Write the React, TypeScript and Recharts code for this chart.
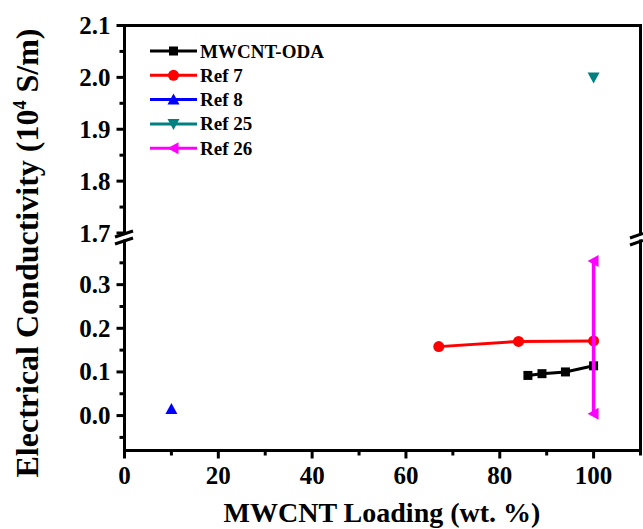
import React from 'react';
import { ScatterChart, Scatter, XAxis, YAxis, Legend } from 'recharts';

const FONT = '"Liberation Serif", "Times New Roman", serif';
const W = 643;
const H = 529;

// MWCNT loading (wt. %) vs electrical conductivity (10^4 S/m)
const odaLoading = [86, 89, 94, 100];
const odaSigma = [0.092, 0.096, 0.1, 0.114];
const ref7Loading = [67, 84, 100];
const ref7Sigma = [0.158, 0.17, 0.171];
const ref8Loading = [10];
const ref8Sigma = [0.015];
const ref25Loading = [100];
const ref25Sigma = [2.0];
const ref26Loading = [100, 100];
const ref26Sigma = [0.004, 0.354];

const loadingTicks = [0, 10, 20, 30, 40, 50, 60, 70, 80, 90, 100, 110];
const upperTicks = [1.7, 1.75, 1.8, 1.85, 1.9, 1.95, 2.0, 2.05, 2.1];
const lowerTicks = [-0.05, 0, 0.05, 0.1, 0.15, 0.2, 0.25, 0.3, 0.35];

const zip = (xs: number[], ys: number[]) => xs.map((x, i) => ({ x, y: ys[i] }));

type Kind = 'square' | 'circle' | 'up' | 'down' | 'left';

const series: { name: string; color: string; kind: Kind; width: number; data: { x: number; y: number }[]; part: 'low' | 'high' }[] = [
  { name: 'MWCNT-ODA', color: '#000000', kind: 'square', width: 3, data: zip(odaLoading, odaSigma), part: 'low' },
  { name: 'Ref 7', color: '#FF0000', kind: 'circle', width: 3, data: zip(ref7Loading, ref7Sigma), part: 'low' },
  { name: 'Ref 8', color: '#0000FF', kind: 'up', width: 3, data: zip(ref8Loading, ref8Sigma), part: 'low' },
  { name: 'Ref 25', color: '#008080', kind: 'down', width: 3, data: zip(ref25Loading, ref25Sigma), part: 'high' },
  { name: 'Ref 26', color: '#FF00FF', kind: 'left', width: 3.5, data: zip(ref26Loading, ref26Sigma), part: 'low' },
];

// plot box in page pixels (shared by both segments)
const LEFT = 124.5;
const RIGHT = 640.5;
const TOP = 25.5;
const UPPER_BOTTOM = 233;
const LOWER_TOP = 241;
const BOTTOM = 450.5;

const Marker = ({ kind, cx, cy, color }: { kind: Kind; cx: number; cy: number; color: string }) => {
  switch (kind) {
    case 'square':
      return <rect x={cx - 4.5} y={cy - 4.5} width={9} height={9} fill={color} />;
    case 'circle':
      return <circle cx={cx} cy={cy} r={5.5} fill={color} />;
    case 'up':
      return <polygon points={`${cx},${cy - 6} ${cx - 6},${cy + 5} ${cx + 6},${cy + 5}`} fill={color} />;
    case 'down':
      return <polygon points={`${cx},${cy + 6} ${cx - 6},${cy - 5} ${cx + 6},${cy - 5}`} fill={color} />;
    default:
      return <polygon points={`${cx - 6},${cy} ${cx + 5},${cy - 6} ${cx + 5},${cy + 6}`} fill={color} />;
  }
};

const isMajor = (v: number, step: number) => Math.abs(v / step - Math.round(v / step)) < 1e-6;

const YTick = (props: any) => {
  const { x, y, payload } = props;
  const v = payload.value as number;
  const major = isMajor(v, 0.1);
  return (
    <g>
      <line x1={x} x2={x - (major ? 8 : 5)} y1={y} y2={y} stroke="#000" strokeWidth={3} />
      {major && (
        <text x={x - 14} y={y + 8.5} textAnchor="end" fontFamily={FONT} fontWeight="bold" fontSize={25} fill="#000">
          {v.toFixed(1)}
        </text>
      )}
    </g>
  );
};

const XTick = (props: any) => {
  const { x, y, payload } = props;
  const v = payload.value as number;
  const major = isMajor(v, 20);
  return (
    <g>
      <line x1={x} x2={x} y1={y} y2={y + (major ? 8 : 5)} stroke="#000" strokeWidth={3} />
      {major && (
        <text x={x} y={y + 33} textAnchor="middle" fontFamily={FONT} fontWeight="bold" fontSize={25} fill="#000">
          {v}
        </text>
      )}
    </g>
  );
};

const LegendBox = () => (
  <svg width={200} height={125}>
    {series.map((s, i) => {
      const cy = 13 + i * 24.3;
      return (
        <g key={s.name}>
          <line x1={2} x2={49} y1={cy} y2={cy} stroke={s.color} strokeWidth={3} />
          <Marker kind={s.kind} cx={25.5} cy={cy} color={s.color} />
          <text x={52} y={cy + 6.5} fontFamily={FONT} fontWeight="bold" fontSize={19} fill="#000">
            {s.name}
          </text>
        </g>
      );
    })}
  </svg>
);

const renderScatter = (s: (typeof series)[number]) => (
  <Scatter
    key={s.name}
    name={s.name}
    data={s.data}
    fill={s.color}
    line={{ stroke: s.color, strokeWidth: s.width }}
    shape={(p: any) => <Marker kind={s.kind} cx={p.cx} cy={p.cy} color={s.color} />}
    isAnimationActive={false}
  />
);

// frame of the two panels, drawn as open paths
const upperFrame = `M${LEFT},${UPPER_BOTTOM} L${LEFT},${TOP} L${RIGHT},${TOP} L${RIGHT},${UPPER_BOTTOM}`;
const lowerFrame = `M${LEFT},${LOWER_TOP} L${LEFT},${BOTTOM} L${RIGHT},${BOTTOM} L${RIGHT},${LOWER_TOP}`;

export default function App() {
  return (
    <div style={{ position: 'relative', width: W, height: H, background: '#fff', overflow: 'hidden' }}>
      <style>{'body { margin: 0; }'}</style>
      {/* upper segment: 1.7 - 2.1 */}
      <div style={{ position: 'absolute', left: 0, top: 0 }}>
        <ScatterChart width={W} height={H} margin={{ top: TOP, right: W - RIGHT, bottom: H - UPPER_BOTTOM, left: 0 }}>
          <XAxis type="number" dataKey="x" domain={[0, 110]} hide allowDataOverflow />
          <YAxis
            type="number"
            dataKey="y"
            domain={[1.7, 2.1]}
            ticks={upperTicks}
            interval={0}
            width={LEFT}
            tickSize={0}
            tickMargin={0}
            tickLine={false}
            tick={<YTick />}
            axisLine={false}
            allowDataOverflow
          />
          <Legend
            layout="vertical"
            align="center"
            verticalAlign="middle"
            width={200}
            height={125}
            wrapperStyle={{ left: 148, top: 38 }}
            content={() => <LegendBox />}
          />
          {series.filter((s) => s.part === 'high').map(renderScatter)}
        </ScatterChart>
      </div>
      {/* lower segment: -0.08 - 0.4 */}
      <div style={{ position: 'absolute', left: 0, top: 0 }}>
        <ScatterChart width={W} height={H} margin={{ top: LOWER_TOP, right: W - RIGHT, bottom: 0, left: 0 }}>
          <XAxis
            type="number"
            dataKey="x"
            domain={[0, 110]}
            ticks={loadingTicks}
            interval={0}
            height={H - BOTTOM}
            tickSize={0}
            tickMargin={0}
            tickLine={false}
            tick={<XTick />}
            axisLine={false}
            allowDataOverflow
          />
          <YAxis
            type="number"
            dataKey="y"
            domain={[-0.08, 0.4]}
            ticks={lowerTicks}
            interval={0}
            width={LEFT}
            tickSize={0}
            tickMargin={0}
            tickLine={false}
            tick={<YTick />}
            axisLine={false}
            allowDataOverflow
          />
          {series.filter((s) => s.part === 'low').map(renderScatter)}
        </ScatterChart>
      </div>
      {/* frame, axis titles and break marks */}
      <svg width={W} height={H} style={{ position: 'absolute', left: 0, top: 0, pointerEvents: 'none' }}>
        <g stroke="#000000" strokeWidth={3} fill="none" strokeLinecap="square">
          <path d={upperFrame} />
          <path d={lowerFrame} />
        </g>
        <g stroke="#000000" strokeWidth={3}>
          <line x1={115} y1={237} x2={133} y2={231} />
          <line x1={115} y1={244} x2={133} y2={238} />
          <line x1={630} y1={238} x2={643} y2={233.5} />
          <line x1={630} y1={245} x2={643} y2={240.5} />
        </g>
        <text x={382} y={522} textAnchor="middle" fontFamily={FONT} fontWeight="bold" fontSize={28} fill="#000">
          MWCNT Loading (wt. %)
        </text>
        <text
          transform="translate(38,253) rotate(-90)"
          textAnchor="middle"
          fontFamily={FONT}
          fontWeight="bold"
          fontSize={32}
          fill="#000"
        >
          Electrical Conductivity (10<tspan dy={-12} fontSize={18}>4</tspan>
          <tspan dy={12}> S/m)</tspan>
        </text>
      </svg>
    </div>
  );
}
